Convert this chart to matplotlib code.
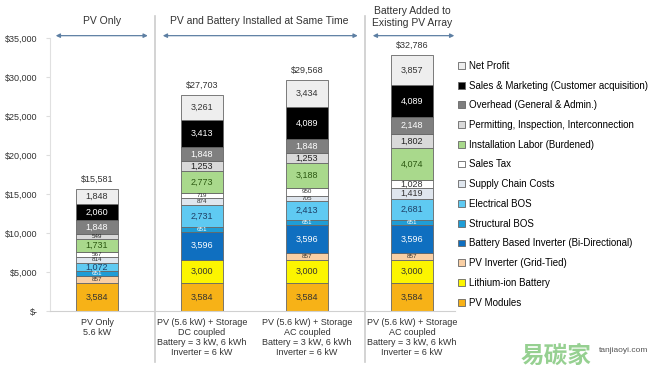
import numpy as np
import matplotlib.pyplot as plt

plt.rcParams['font.family'] = ['Liberation Sans', 'DejaVu Sans']

# categories / data (bottom of stack first)
scenarios = ["PV Only\n5.6 kW",
             "PV (5.6 kW) + Storage\nDC coupled\nBattery = 3 kW, 6 kWh\nInverter = 6 kW",
             "PV (5.6 kW) + Storage\nAC coupled\nBattery = 3 kW, 6 kWh\nInverter = 6 kW",
             "PV (5.6 kW) + Storage\nAC coupled\nBattery = 3 kW, 6 kWh\nInverter = 6 kW"]
totals = [15581, 27703, 29568, 32786]

components = ["PV Modules", "Lithium-ion Battery", "PV Inverter (Grid-Tied)",
              "Battery Based Inverter (Bi-Directional)", "Structural BOS",
              "Electrical BOS", "Supply Chain Costs", "Sales Tax",
              "Installation Labor (Burdened)", "Permitting, Inspection, Interconnection",
              "Overhead (General & Admin.)", "Sales & Marketing (Customer acquisition)",
              "Net Profit"]
pv_modules = [3584, 3584, 3584, 3584]
li_battery = [0, 3000, 3000, 3000]
pv_inverter = [857, 0, 857, 857]
batt_inverter = [0, 3596, 3596, 3596]
structural_bos = [651, 651, 651, 651]
electrical_bos = [1072, 2731, 2413, 2681]
supply_chain = [814, 874, 705, 1419]
sales_tax = [567, 719, 950, 1028]
install_labor = [1731, 2773, 3188, 4074]
permitting = [549, 1253, 1253, 1802]
overhead = [1848, 1848, 1848, 2148]
sales_marketing = [2060, 3413, 4089, 4089]
net_profit = [1848, 3261, 3434, 3857]

series = [pv_modules, li_battery, pv_inverter, batt_inverter, structural_bos,
          electrical_bos, supply_chain, sales_tax, install_labor, permitting,
          overhead, sales_marketing, net_profit]
colors = ["#f7b217", "#fcf500", "#f9cfa4", "#0f6fc0", "#1f9dd6",
          "#5fcaf2", "#dfe6ee", "#ffffff", "#a9d98c", "#d9d9d9",
          "#7f7f7f", "#000000", "#eeeeee"]
text_colors = ["#333333", "#333333", "#333333", "#ffffff", "#ffffff",
               "#1f3f66", "#333333", "#333333", "#2d5a12", "#222222",
               "#ffffff", "#ffffff", "#333333"]

fig = plt.figure(figsize=(6.51, 3.74), dpi=100)
ax = fig.add_axes([50 / 651, 1 - 311 / 374, 405 / 651, 273 / 374])

x = np.arange(len(scenarios))
bottom = np.zeros(len(scenarios))
handles = []
for name, vals, c, tc in zip(components, series, colors, text_colors):
    vals = np.array(vals, dtype=float)
    b = ax.bar(x, vals, 0.4, bottom=bottom, color=c, edgecolor="#666666",
               linewidth=0.6, label=name)
    handles.append(b)
    for i, v in enumerate(vals):
        if v > 0:
            fs = 6.5 if v >= 1000 else 4.5
            ax.text(x[i], bottom[i] + v / 2, f"{int(v):,}", ha="center",
                    va="center", fontsize=fs, color=tc)
    bottom += vals

for i, t in enumerate(totals):
    ax.text(x[i], bottom[i] + 700, f"${t:,}", ha="center", va="bottom",
            fontsize=6.5, color="#333333")

ax.set_xlim(-0.448, 3.41)
ax.set_ylim(0, 35000)
yt = np.arange(0, 35001, 5000)
ax.set_yticks(yt)
ax.set_yticklabels(["$-"] + [f"${v:,}" for v in yt[1:]], fontsize=6.5, color="#333333")
ax.set_xticks(x)
ax.set_xticklabels(scenarios, fontsize=6.5, color="#333333", linespacing=1.15)
ax.tick_params(axis="x", length=0, pad=5)
ax.tick_params(axis="y", length=3, color="#dddddd", pad=6)
for s in ["top", "right"]:
    ax.spines[s].set_visible(False)
ax.spines["left"].set_color("#e0e0e0")
ax.spines["bottom"].set_color("#d0d0d0")

# section dividers and arrows
for xd in [0.552, 2.552]:
    ax.plot([xd, xd], [-6500, 37800], color="#cccccc", lw=1.2, clip_on=False)
arrow_kw = dict(arrowstyle="<|-|>", color="#5d7fa3", lw=0.9, mutation_scale=6)
y_arr = 35300
for x0, x1 in [(-0.42, 0.51), (0.60, 2.51), (2.60, 3.43)]:
    ax.annotate("", xy=(x1, y_arr), xytext=(x0, y_arr), arrowprops=arrow_kw,
                annotation_clip=False)
ax.text(0.05, 36600, "PV Only", ha="center", va="bottom", fontsize=7.5, color="#333333")
ax.text(1.55, 36600, "PV and Battery Installed at Same Time", ha="center",
        va="bottom", fontsize=7.5, color="#333333")
ax.text(3.0, 36300, "Battery Added to\nExisting PV Array", ha="center",
        va="bottom", fontsize=7.5, color="#333333", linespacing=1.2)

leg = fig.legend(handles[::-1], components[::-1], loc="upper left",
                 bbox_to_anchor=(453 / 651, 1 - 56 / 374), frameon=False,
                 fontsize=7, handlelength=0.7, handleheight=0.7,
                 labelspacing=1.0, handletextpad=0.4, borderpad=0)

# watermark
fig.text(0.80, 0.03, "易碳家", fontsize=17, color="#7cc576", alpha=0.8,
         family=["Noto Sans CJK SC", "DejaVu Sans"], fontweight="bold")
fig.text(0.92, 0.06, "tanjiaoyi.com", fontsize=6, color="#555555")

fig.savefig("out.png", dpi=100)
